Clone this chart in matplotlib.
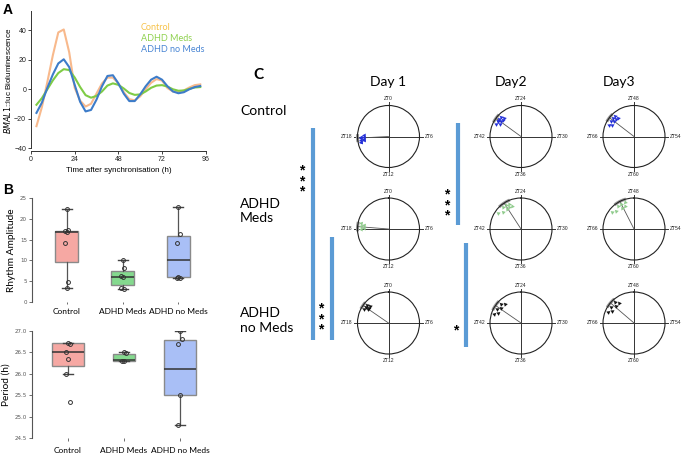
import numpy as np
import matplotlib.pyplot as plt

W, H = 685, 457
SANS = ['Liberation Sans', 'DejaVu Sans']
CAL = ['Lato', 'DejaVu Sans']

# panel A: detrended bioluminescence, read every 3 h
hours = [3, 6, 9, 12, 15, 18, 21, 24, 27, 30, 33, 36, 39, 42, 45, 48,
         51, 54, 57, 60, 63, 66, 69, 72, 75, 78, 81, 84, 87, 90, 93]
control_lum = [-25, -12, 5, 23, 38.5, 40.5, 25, 1, -7.7, -11.7, -9.8, -2.9, 3.9, 7.9, 7.9, 4,
               -2, -6.7, -7.5, -4.8, 0, 4.4, 6.9, 5.9, 0.8, -1.5, -2, -0.8, 1.2, 2.8, 3.3]
meds_lum = [-10.5, -6, 0, 6, 11, 13.6, 13, 8, 1.5, -4, -5.7, -4.5, -1.5, 2.5, 4, 3,
            0.5, -2.5, -3.8, -3.5, -1.5, 1, 2.5, 2.8, 1.8, 0, -1, -0.8, 0.3, 1.2, 1.5]
nomeds_lum = [-16, -9, 1, 10, 17.5, 20.3, 15, 3, -8.5, -15, -14, -7, 2, 9, 9.5, 4,
              -3, -8, -8, -3.5, 2, 6.5, 8.5, 6.5, 2, -1.5, -2.7, -2, 0, 1.5, 2.2]

# panel B
groups = ['Control', 'ADHD Meds', 'ADHD no Meds']
amp_points = [[22.3, 17.3, 17.1, 16.8, 14.1, 4.8, 3.2],
              [10.1, 8.1, 6.2, 5.9, 3.2, 3.0],
              [22.8, 16.4, 14.1, 6.05, 5.8, 5.65]]
amp_q1 = [9.5, 4.0, 5.9]
amp_med = [16.8, 6.05, 10.0]
amp_q3 = [17.2, 7.5, 15.9]
amp_lo = [3.2, 3.0, 5.65]
amp_hi = [22.3, 10.1, 22.8]

per_points = [[26.72, 26.7, 26.5, 26.34, 26.0, 25.34],
              [26.5, 26.49, 26.3, 26.29],
              [27.0, 26.8, 26.7, 25.5, 24.8]]
per_q1 = [26.18, 26.3, 25.5]
per_med = [26.51, 26.31, 26.1]
per_q3 = [26.72, 26.46, 26.78]
per_lo = [26.0, 26.3, 24.8]
per_hi = [26.72, 26.5, 27.0]

# panel C: individual phases (ZT h within the cycle), mean phase, 95% arc
conditions = ['Control', 'ADHD\nMeds', 'ADHD\nno Meds']
days = ['Day 1', 'Day2', 'Day3']
zt_start = [0, 24, 48]
phases = [
    [[17.2, 17.4, 17.5, 17.6, 17.8, 17.9, 18.0, 18.2, 17.3],
     [19.8, 20.1, 20.3, 20.5, 20.6, 20.8, 21.0, 21.2, 20.2],
     [19.6, 19.9, 20.2, 20.5, 20.7, 20.9, 21.1, 21.3]],
    [[18.0, 18.2, 18.4, 18.6, 18.8],
     [20.3, 20.9, 21.4, 21.7, 21.9, 22.1, 22.3, 22.5],
     [20.5, 21.0, 21.6, 22.0, 22.2, 22.5, 22.8]],
    [[20.0, 20.2, 20.4, 20.5, 20.6, 20.8],
     [19.2, 19.6, 20.0, 20.5, 20.9, 21.3],
     [19.5, 19.9, 20.3, 20.8, 21.2, 21.6]],
]
mean_phase = [[17.8, 20.4, 20.5], [18.3, 21.8, 22.2], [20.3, 20.3, 20.7]]
ci_phase = [[0.3, 0.4, 0.4], [0.4, 0.6, 0.6], [0.3, 0.5, 0.5]]
cond_colors = ['#2430d8', '#8fcb8c', '#111111']

col_a = {'Control': '#f8b98c', 'ADHD Meds': '#7fcc45', 'ADHD no Meds': '#3d7cc9'}
box_fill = ['#f6a8a3', '#84d98e', '#a9bff6']


def rect(x0, y0, x1, y1):
    return [x0 / W, 1 - y1 / H, (x1 - x0) / W, (y1 - y0) / H]


fig = plt.figure(figsize=(W / 100, H / 100), dpi=100)

# ---------------- A ----------------
ax = fig.add_axes(rect(31, 11, 205.7, 150.7))
ax.plot(hours, control_lum, color=col_a['Control'], lw=1.5)
ax.plot(hours, meds_lum, color=col_a['ADHD Meds'], lw=1.5)
ax.plot(hours, nomeds_lum, color=col_a['ADHD no Meds'], lw=1.5)
ax.set_xlim(0, 96)
ax.set_ylim(-41.6, 53)
ax.set_xticks([0, 24, 48, 72, 96])
ax.set_yticks([-40, -20, 0, 20, 40])
ax.spines[['top', 'right']].set_visible(False)
ax.spines['left'].set_bounds(-40, 53)
for s in ['left', 'bottom']:
    ax.spines[s].set_linewidth(0.7)
    ax.spines[s].set_color('#333')
ax.tick_params(length=2, width=0.6, pad=1.5, labelsize=5, colors='#222')
for t in ax.get_xticklabels() + ax.get_yticklabels():
    t.set_family(SANS)
ax.set_xlabel('Time after synchronisation (h)', fontsize=5.8, family=SANS, labelpad=3)
ax.set_ylabel(r'$\it{BMAL1}$::luc Bioluminescence', fontsize=5.8, family=SANS, labelpad=1)
legend_colors = ['#f7c24a', '#8fd14f', '#4a86d4']
for i, g in enumerate(groups):
    ax.text(0.63, 0.885 - i * 0.08, g, transform=ax.transAxes, color=legend_colors[i],
            fontsize=6.5, family=CAL, va='center')


# ---------------- B ----------------
def box_panel(axb, q1, med, q3, lo, hi, pts, widths, ylim, yticks, ylabel, fmt):
    stats = []
    for i in range(3):
        stats.append(dict(q1=q1[i], med=med[i], q3=q3[i], whislo=lo[i], whishi=hi[i], fliers=[]))
    bp = axb.bxp(stats, positions=[0, 1, 2], widths=widths, patch_artist=True,
                 showfliers=False, capwidths=0.18,
                 boxprops=dict(edgecolor='#8a8a8a', linewidth=1.0),
                 medianprops=dict(color='#333', linewidth=1.1),
                 whiskerprops=dict(color='#555', linewidth=0.9),
                 capprops=dict(color='#444', linewidth=1.0))
    for patch, c in zip(bp['boxes'], box_fill):
        patch.set_facecolor(c)
    for i, vals in enumerate(pts):
        offs = [0.03 * (1 if k % 2 else -1) * (k % 3 != 0) for k in range(len(vals))]
        axb.plot(np.array(offs) + i, vals, 'o', ms=2.8, mfc='none', mec='#333', mew=0.7, zorder=5)
    axb.set_xlim(*xl)
    axb.set_ylim(*ylim)
    axb.set_yticks(yticks)
    axb.set_yticklabels([fmt.format(v) for v in yticks])
    axb.set_xticks([0, 1, 2])
    axb.set_xticklabels(groups, fontsize=6, family=CAL)
    axb.spines[['top', 'right', 'bottom']].set_visible(False)
    axb.spines['left'].set_color('#555')
    axb.spines['left'].set_linewidth(0.8)
    axb.tick_params(axis='y', length=2.5, width=0.6, pad=1, labelsize=4, labelcolor='#555', color='#555')
    axb.set_ylabel(ylabel, fontsize=7.3, family=CAL, labelpad=3)


xl = (-0.62, 2.6)
axb1 = fig.add_axes(rect(32, 198.3, 212, 301.7))
box_panel(axb1, amp_q1, amp_med, amp_q3, amp_lo, amp_hi, amp_points, [0.4, 0.4, 0.42],
          (0, 25), [0, 5, 10, 15, 20, 25], 'Rhythm Amplitude', '{:g}')
axb1.tick_params(axis='x', length=1.5, width=0.6, pad=3, color='#555')

xl = (-0.643, 2.571)
axb2 = fig.add_axes(rect(32, 330.7, 212, 438.3))
box_panel(axb2, per_q1, per_med, per_q3, per_lo, per_hi, per_points, [0.58, 0.41, 0.58],
          (24.5, 27.0), [24.5, 25.0, 25.5, 26.0, 26.5, 27.0], 'Period (h)', '{:.1f}')
axb2.tick_params(axis='x', length=2.5, width=0.6, pad=4, color='#555')

# ---------------- C ----------------
ov = fig.add_axes([0, 0, 1, 1])
ov.set_xlim(0, W)
ov.set_ylim(H, 0)
ov.axis('off')

fig.text(3 / W, 1 - 10 / H, 'A', fontsize=10, weight='bold', family=SANS, va='center')
fig.text(3 / W, 1 - 190 / H, 'B', fontsize=10, weight='bold', family=SANS, va='center')
ov.text(253, 75, 'C', fontsize=11, weight='bold', family=CAL, va='center')

row_y = [136.5, 229, 323]
col_x = [388.5, 521, 634]
day_x = [388, 511, 619]
cond_text_y = [111, 211, 320.5]
R = 31

for j, d in enumerate(days):
    ov.text(day_x[j], 82, d, fontsize=10, family=CAL, ha='center', va='center')
for i, c in enumerate(conditions):
    ov.text(240, cond_text_y[i], c, fontsize=10, family=CAL, ha='left', va='center', linespacing=1.25)

for i in range(3):
    for j in range(3):
        cx, cy = col_x[j], row_y[i]
        pa = fig.add_axes(rect(cx - R, cy - R, cx + R, cy + R), projection='polar')
        pa.set_theta_zero_location('N')
        pa.set_theta_direction(-1)
        pa.set_ylim(0, 1)
        pa.set_xticks([])
        pa.set_yticks([])
        pa.grid(False)
        pa.set_facecolor('none')
        pa.spines['polar'].set_linewidth(0.8)
        pa.spines['polar'].set_color('#222')
        for q in range(4):
            th = q * np.pi / 2
            pa.plot([th, th], [0, 1.1], color='#333', lw=0.7, clip_on=False)
        z0 = zt_start[j]
        lab = ['ZT%d' % (z0 + k * 6) for k in range(4)]
        kw = dict(fontsize=3.6, family=SANS, color='#222')
        pa.text(0, 1.13, lab[0], ha='center', va='bottom', **kw)
        pa.text(np.pi / 2, 1.16, lab[1], ha='left', va='center', **kw)
        pa.text(np.pi, 1.13, lab[2], ha='center', va='top', **kw)
        pa.text(3 * np.pi / 2, 1.16, lab[3], ha='right', va='center', **kw)
        m = mean_phase[i][j] * np.pi / 12
        ci = ci_phase[i][j] * np.pi / 12
        arc = np.linspace(m - ci, m + ci, 20)
        pa.plot(arc, np.ones_like(arc), color='#9a9a9a', lw=2.2, clip_on=False)
        pa.plot([m, m], [0, 1], color='#555', lw=0.6)
        for k, p in enumerate(phases[i][j]):
            th = p * np.pi / 12
            rr = 0.9 - 0.1 * (k % 2)
            pa.plot([th], [rr], marker=(3, 0, -np.degrees(th)), ms=3.4,
                    color=cond_colors[i], mew=0, clip_on=False)

bar_c = '#5b9bd5'
for x, y0, y1 in [(313, 128, 340), (332.3, 237, 340), (457.7, 123, 225), (466, 243, 347)]:
    ov.plot([x, x], [y0, y1], color=bar_c, lw=3, solid_capstyle='butt')
for x, y, s in [(302, 181, '*\n*\n*'), (320.7, 319, '*\n*\n*'), (446.7, 205, '*\n*\n*'),
                (456, 330, '*')]:
    ov.text(x, y, s, fontsize=10, family=SANS, ha='center', va='center', weight='bold',
            linespacing=0.7)

fig.savefig('out.png', dpi=100)
